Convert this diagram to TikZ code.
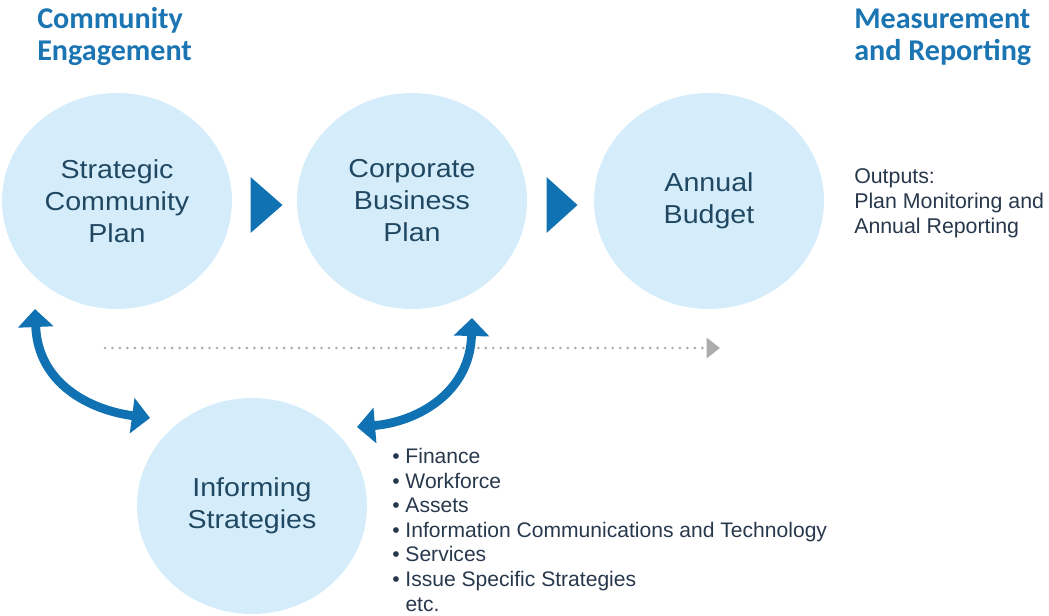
\documentclass[tikz,border=0pt]{standalone}
\usepackage{fontspec}
\setmainfont{Liberation Sans}
\newfontfamily\headfont{Carlito}
\newfontfamily\circfont[FakeStretch=1.1]{Liberation Sans}
\usetikzlibrary{shapes.geometric,arrows.meta,calc}

\definecolor{circfill}{RGB}{213,237,250}
\definecolor{circtext}{RGB}{32,72,98}
\definecolor{arrowblue}{RGB}{16,114,178}
\definecolor{headblue}{RGB}{27,117,178}
\definecolor{sidetext}{RGB}{40,56,76}
\definecolor{dotgray}{RGB}{172,172,172}

\begin{document}
\begin{tikzpicture}[x=0.75pt,y=0.75pt,yscale=-1,xscale=1,
  plan/.style={ellipse,fill=circfill,inner sep=0pt,minimum width=172.5pt,minimum height=162pt,align=center,text=circtext,font=\circfont\fontsize{19.5}{24}\selectfont},
  heading/.style={anchor=base west,inner sep=0pt,align=left,text=headblue,font=\headfont\bfseries\fontsize{22.6}{24}\selectfont},
  sidenote/.style={anchor=base west,inner sep=0pt,align=left,text=sidetext,font=\fontsize{16}{18.75}\selectfont},
  linkarrow/.style={draw=arrowblue,line width=6.6pt,{Triangle[width=26pt,length=13.5pt]}-{Triangle[width=26pt,length=13.5pt]}},
  dotline/.style={draw=dotgray,line width=2.2pt,line cap=round,dash pattern=on 0pt off 5.6pt,-{Triangle[width=15pt,length=10pt,fill=dotgray]}}]

\useasboundingbox (0,0) rectangle (1049,615);

%Headings (base = last line)
\node[heading] (engage) at (37,60) {Community\\Engagement};
\node[heading] (measure) at (854,60) {Measurement\\and Reporting};

%Plans
\node[plan] (scp) at (117,201) {Strategic\\Community\\Plan};
\node[plan] (cbp) at (412,201) {Corporate\\Business\\Plan};
\node[plan] (budget) at (709,201) {Annual\\Budget};
\node[plan] (inform) at (252,506) {Informing\\Strategies};

%Flow triangles
\coordinate (m1) at ($(scp.east)!0.5!(cbp.west)$);
\coordinate (m2) at ($(cbp.east)!0.5!(budget.west)$);
\fill[arrowblue] ($(m1)+(-14,-24)$) -- ($(m1)+(18,4)$) -- ($(m1)+(-14,32)$) -- cycle;
\fill[arrowblue] ($(m2)+(-14,-24)$) -- ($(m2)+(17,4)$) -- ($(m2)+(-14,32)$) -- cycle;

%Dotted time line
\coordinate (dotstart) at (105,348);
\coordinate (dotend) at (720,348);
\draw[dotline] (dotstart) -- (dotend);

%Links to informing strategies
\coordinate (scplink) at ($(scp.center)+(-82,108)$);
\coordinate (infleft) at ($(inform.center)+(-102,-88)$);
\coordinate (cbplink) at ($(cbp.center)+(60,117)$);
\coordinate (infright) at ($(inform.center)+(105,-79)$);
\draw[linkarrow] (scplink) .. controls +(3,75) and +(-60,-8) .. (infleft);
\draw[linkarrow] (cbplink) .. controls +(-2,75) and +(60,-5) .. (infright);

%Side notes
\node[sidenote] (outputs) at (854,233) {Outputs:\\Plan Monitoring and\\Annual Reporting};
\node[sidenote,font=\fontsize{15.8}{18.4}\selectfont] (topics) at (392,611) {\textbullet{} Finance\\\textbullet{} Workforce\\\textbullet{} Assets\\\textbullet{} Information Communications and Technology\\\textbullet{} Services\\\textbullet{} Issue Specific Strategies\\\hphantom{\textbullet{} }etc.};

\end{tikzpicture}
\end{document}
